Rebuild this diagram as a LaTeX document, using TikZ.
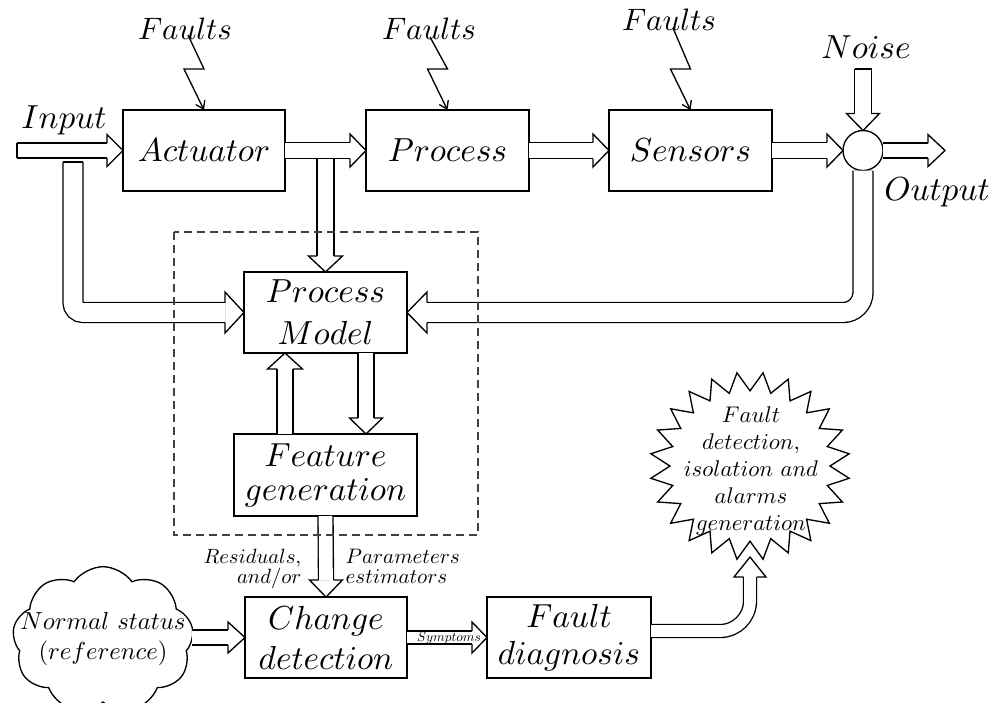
\documentclass[tikz,border=0pt]{standalone}
\usepackage{fix-cm}
\usepackage{graphicx}
\usetikzlibrary{calc,shapes.symbols,arrows.meta}
\newcommand\sct[2]{\scalebox{#1}{$#2$}}
\tikzset{
  box/.style 2 args={draw,fill=white,inner sep=0pt,outer sep=0pt,minimum width=#1*0.3pt,minimum height=#2*0.3pt,align=center},
  big/.style={font=\fontsize{10}{#1}\selectfont},
  pipe/.style={draw,double=white,double distance=#1,line cap=butt},
  bolt/.style={-{Straight Barb[length=2.2pt,width=3pt]},line join=miter},
  headline/.style={line join=miter},
  dashbox/.style={draw=black!75,dash pattern=on 2.4pt off 1.5pt},
  pics/hR/.style args={#1/#2/#3}{code={\draw[headline] (-#3,#1) -- (-#3,#2) -- (0,0) -- (-#3,-#2) -- (-#3,-#1);}},
  pics/hL/.style args={#1/#2/#3}{code={\draw[headline] (#3,#1) -- (#3,#2) -- (0,0) -- (#3,-#2) -- (#3,-#1);}},
  pics/hD/.style args={#1/#2/#3}{code={\draw[headline] (#1,-#3) -- (#2,-#3) -- (0,0) -- (-#2,-#3) -- (-#1,-#3);}},
  pics/hU/.style args={#1/#2/#3}{code={\draw[headline] (#1,#3) -- (#2,#3) -- (0,0) -- (-#2,#3) -- (-#1,#3);}},
}
\begin{document}
\begin{tikzpicture}[x=0.3pt,y=-0.3pt,line width=0.4pt]
\useasboundingbox (0,0) rectangle (992,702);

% blocks
\node[box={162}{81},big=12] (act) at (204,150.5) {$Actuator$};
\node[box={163}{81},big=12] (proc) at (447.5,150.5) {$Process$};
\node[box={163}{81},big=12] (sens) at (690.5,150.5) {$Sensors$};
\node[draw,fill=white,circle,minimum size=12pt,inner sep=0pt,outer sep=0pt] (sum) at (863,150.5) {};
\node[box={163}{81},big=12.6] (pm) at (325.5,312.5) {$Process$\\$Model$};
\node[box={183}{82},big=10.2] (fg) at (325.5,475) {$Feature$\\$generation$};
\node[box={162}{81},big=12] (cd) at (326,637.5) {$Change$\\$detection$};
\node[box={164}{81},big=11] (fd) at (569,637.5) {$Fault$\\$diagnosis$};

% cloud
\node[cloud,draw,fill=white,cloud puffs=9,cloud puff arc=110,aspect=1.25,
      minimum width=54.3pt,minimum height=44pt,inner sep=0pt,outer sep=0pt] (cloud) at (103,640) {};
\node[big=9,align=center,inner sep=0pt] (cloudtxt) at (103,639) {\sct{0.74}{Normal\ status}\\\sct{0.74}{(reference)}};

% starburst
\draw[line join=miter,fill=white] plot[samples at={0,...,47},variable=\i]
  ({750+100*cos(\i*7.5+7.5)*(1-0.2*mod(\i,2))},{466+94*sin(\i*7.5+7.5)*(1-0.2*mod(\i,2))}) -- cycle;
\node[big=8.1,align=center,inner sep=0pt] (star) at (751,471)
  {\sct{0.68}{Fault}\\\sct{0.68}{detection,}\\\sct{0.68}{isolation\ and}\\\sct{0.68}{alarms}\\\sct{0.68}{generation}};
\coordinate (starb) at (750,557);

% labels
\node[big=12,anchor=base,inner sep=0pt] (inlbl) at (64,128) {$Input$};
\node[big=12,anchor=base,inner sep=0pt] (outlbl) at (937,200) {$Output$};
\node[big=12,anchor=base,inner sep=0pt] (noise) at (866,58) {$Noise$};
\node[big=12,anchor=base,inner sep=0pt] (f1) at (185,39) {\sct{0.93}{Faults}};
\node[big=12,anchor=base,inner sep=0pt] (f2) at (429,39) {\sct{0.93}{Faults}};
\node[big=12,anchor=base,inner sep=0pt] (f3) at (669,30) {\sct{0.93}{Faults}};

% fault lightning
\draw[bolt] ($(act.north)+(-16,-75)$) -- ($(act.north)+(0,-41)$) -- ($(act.north)+(-20,-41)$) -- (act.north);
\draw[bolt] ($(proc.north)+(-17.5,-73)$) -- ($(proc.north)+(0,-41)$) -- ($(proc.north)+(-20,-41)$) -- (proc.north);
\draw[bolt] ($(sens.north)+(-17.5,-82)$) -- ($(sens.north)+(0,-41)$) -- ($(sens.north)+(-20,-41)$) -- (sens.north);

% coordinates for free ends
\coordinate (inp) at (17,150.5);
\coordinate (outend) at (945,150.5);
\coordinate (noi) at (863,69);
\coordinate (inb) at (73,162);

% branch from actuator output down to process model
\draw[pipe=4.7pt] (pm.north |- act.east) -- ($(pm.north)+(0,-16)$);
\path (pm.north) pic {hD=8.5/17/16};

% main chain
\draw[pipe=4.1pt] (inp) -- ($(act.west)+(-16,0)$);
\draw (17,143) -- (17,158);
\path (act.west) pic {hR=7.5/16/16};
\draw[pipe=4.4pt] (act.east) -- ($(proc.west)+(-16,0)$);
\path (proc.west) pic {hR=8/16.5/16};
\draw[pipe=4.4pt] (proc.east) -- ($(sens.west)+(-16,0)$);
\path (sens.west) pic {hR=8/16.5/16};
\draw[pipe=4.4pt] (sens.east) -- ($(sum.west)+(-16,0)$);
\path (sum.west) pic {hR=8/16.5/16};
\draw[pipe=4.1pt] (sum.east) -- ($(outend)+(-17,0)$);
\path (outend) pic {hR=7.5/16/17};
\draw[pipe=4.7pt] (noi) -- ($(sum.north)+(0,-17)$);
\draw (854.5,69) -- (871.5,69);
\path (sum.north) pic {hD=8.5/16.5/17};

% input branch to process model
\draw[pipe=5.6pt,rounded corners=3pt] (inb) -- (inb |- pm.west) -- ($(pm.west)+(-19,0)$);
\draw (63,162) -- (83,162);
\path (pm.west) pic {hR=10/20.5/19};

% output feedback to process model
\draw[pipe=5.6pt,rounded corners=6pt] (sum.south) -- (sum.south |- pm.east) -- ($(pm.east)+(20,0)$);
\path (pm.east) pic {hL=10/20.5/20};

% process model <-> feature generation
\draw[pipe=4.4pt] ($(fg.north)+(-40.5,0)$) -- ($(pm.south)+(-40.5,16)$);
\path ($(pm.south)+(-40.5,0)$) pic {hU=8/17.5/16};
\draw[pipe=4.4pt] ($(pm.south)+(40.5,0)$) -- ($(fg.north)+(40.5,-16)$);
\path ($(fg.north)+(40.5,0)$) pic {hD=8/16.5/16};

% feature generation -> change detection
\draw[pipe=4.1pt] (fg.south) -- ($(cd.north)+(0,-17)$);
\path (cd.north) pic {hD=7.5/16.5/17};
\node[big=12,anchor=base east,inner sep=0pt] (res1) at (302,563) {\sct{0.62}{Residuals,}};
\node[big=12,anchor=base east,inner sep=0pt] (res2) at (302,583) {\sct{0.62}{and/or}};
\node[big=12,anchor=base west,inner sep=0pt] (par1) at (345,563) {\sct{0.63}{Parameters}};
\node[big=12,anchor=base west,inner sep=0pt] (par2) at (345,583) {\sct{0.63}{estimators}};

% cloud -> change detection
\draw[pipe=4.1pt] (cloud.east |- cd.west) -- ($(cd.west)+(-17,0)$);
\path (cd.west) pic {hR=7.5/15.5/17};

% change detection -> fault diagnosis
\draw[pipe=3.5pt] (cd.east) -- ($(fd.west)+(-15,0)$);
\path (fd.west) pic {hR=6.5/15.5/15};
\node[big=12,inner sep=0pt] (sym) at (449,638) {\sct{0.4}{Symptoms}};

% fault diagnosis -> alarm starburst
\coordinate (fdo) at ($(fd.east)+(0,-6.5)$);
\draw[pipe=3.5pt,rounded corners=9pt] (fdo) -- (starb |- fdo) -- ($(starb)+(0,20)$);
\path (starb) pic {hU=6.5/16/20};

% dashed frame
\draw[dashbox] (174,232) rectangle (478,535);
\end{tikzpicture}
\end{document}
